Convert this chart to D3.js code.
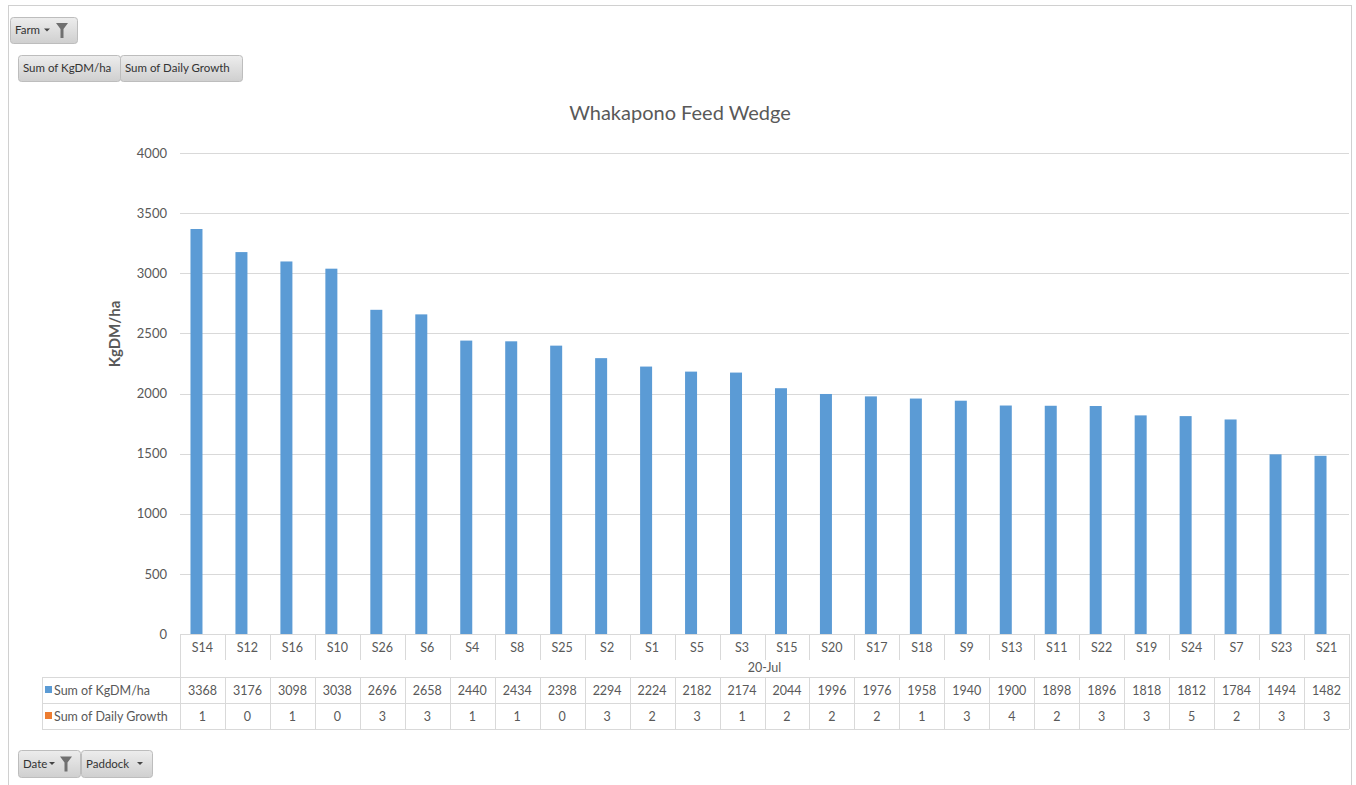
<!DOCTYPE html>
<html>
<head>
<meta charset="utf-8">
<script src="https://cdn.jsdelivr.net/npm/d3@7"></script>
<style>
  html, body { margin: 0; padding: 0; background: #fff; }
  svg { display: block; font-family: Lato, "Open Sans", sans-serif; }
</style>
</head>
<body>
<svg id="chart" width="1356" height="785"></svg>
<script>
const title = "Whakapono Feed Wedge";
const yAxisTitle = "KgDM/ha";
const dateLabel = "20-Jul";
const paddocks = ["S14","S12","S16","S10","S26","S6","S4","S8","S25","S2","S1","S5","S3","S15","S20","S17","S18","S9","S13","S11","S22","S19","S24","S7","S23","S21"];
const kgDM = [3368,3176,3098,3038,2696,2658,2440,2434,2398,2294,2224,2182,2174,2044,1996,1976,1958,1940,1900,1898,1896,1818,1812,1784,1494,1482];
const dailyGrowth = [1,0,1,0,3,3,1,1,0,3,2,3,1,2,2,2,1,3,4,2,3,3,5,2,3,3];
const seriesNames = ["Sum of KgDM/ha","Sum of Daily Growth"];
const seriesColors = ["#5B9BD5","#ED7D31"];
const yTicks = [0,500,1000,1500,2000,2500,3000,3500,4000];
const topButtons = ["Sum of KgDM/ha","Sum of Daily Growth"];
const bottomButtons = ["Date","Paddock"];

const svg = d3.select("#chart");
const textColor = "#595959";
const gridColor = "#D9D9D9";
const tableColor = "#D9D9D9";

// outer frame
svg.append("rect").attr("x",8.5).attr("y",5.5).attr("width",1343).attr("height",790)
  .attr("fill","none").attr("stroke","#D0D0D0");

const plotLeft = 180, plotRight = 1349, plotTop = 153, plotBottom = 634;
const x = d3.scaleBand().domain(paddocks).range([plotLeft, plotRight]);
const y = d3.scaleLinear().domain([0,4000]).range([plotBottom, plotTop]);

// title
svg.append("text").attr("x",680).attr("y",120).attr("text-anchor","middle")
  .attr("font-size",20).attr("fill",textColor).text(title);

// grid
svg.append("g").selectAll("line").data(yTicks.filter(d=>d>0)).join("line")
  .attr("x1",plotLeft).attr("x2",plotRight)
  .attr("y1",d=>Math.round(y(d))+0.5).attr("y2",d=>Math.round(y(d))+0.5)
  .attr("stroke",gridColor);

// y axis labels
const yAxis = d3.axisLeft(y).tickValues(yTicks).tickSize(0).tickPadding(13).tickFormat(d3.format("d"));
const gy = svg.append("g").attr("transform",`translate(${plotLeft},0)`).call(yAxis);
gy.select(".domain").remove();
gy.selectAll("text").attr("font-size",13).attr("fill",textColor).attr("font-family","Lato, sans-serif");

// y axis title
svg.append("text").attr("transform","translate(120,334) rotate(-90)")
  .attr("text-anchor","middle").attr("font-size",15).attr("font-weight","bold")
  .attr("fill",textColor).text(yAxisTitle);

// bars
const barW = 12, barOffset = -6;
svg.append("g").selectAll("rect").data(paddocks).join("rect")
  .attr("x",(d)=>x(d)+x.bandwidth()/2+barOffset-barW/2)
  .attr("width",barW)
  .attr("y",(d,i)=>y(kgDM[i]))
  .attr("height",(d,i)=>y(0)-y(kgDM[i]))
  .attr("fill",seriesColors[0]);

// data table
const tbl = svg.append("g");
const rowCatTop = 634, rowCatBot = 660, rowDateBot = 677, row1Bot = 703, row2Bot = 729;
const tableLeft = 42;
tbl.append("line").attr("x1",plotLeft).attr("x2",plotRight).attr("y1",rowCatTop+0.5).attr("y2",rowCatTop+0.5).attr("stroke",tableColor);
const bounds = paddocks.map(d=>x(d)).concat([plotRight]);
tbl.selectAll(".catsep").data(bounds).join("line")
  .attr("x1",d=>Math.round(d)+0.5).attr("x2",d=>Math.round(d)+0.5)
  .attr("y1",rowCatTop).attr("y2",rowCatBot).attr("stroke",tableColor);
tbl.append("line").attr("x1",plotLeft+0.5).attr("x2",plotLeft+0.5).attr("y1",rowCatBot).attr("y2",rowDateBot).attr("stroke",tableColor);
tbl.append("line").attr("x1",plotRight+0.5).attr("x2",plotRight+0.5).attr("y1",rowCatBot).attr("y2",rowDateBot).attr("stroke",tableColor);
[rowDateBot,row1Bot,row2Bot].forEach(yy=>{
  tbl.append("line").attr("x1",tableLeft).attr("x2",plotRight).attr("y1",yy+0.5).attr("y2",yy+0.5).attr("stroke",tableColor);
});
const vb = [tableLeft].concat(bounds);
tbl.selectAll(".datasep").data(vb).join("line")
  .attr("x1",d=>Math.round(d)+0.5).attr("x2",d=>Math.round(d)+0.5)
  .attr("y1",rowDateBot).attr("y2",row2Bot).attr("stroke",tableColor);

tbl.selectAll(".cat").data(paddocks).join("text")
  .attr("x",d=>x(d)+x.bandwidth()/2).attr("y",652).attr("text-anchor","middle")
  .attr("font-size",12.5).attr("fill",textColor).text(d=>d);
tbl.append("text").attr("x",(plotLeft+plotRight)/2).attr("y",672).attr("text-anchor","middle")
  .attr("font-size",12.5).attr("fill",textColor).text(dateLabel);

const rows = [kgDM, dailyGrowth];
const rowY = [695, 721];
rows.forEach((vals,r)=>{
  tbl.append("rect").attr("x",45).attr("y",rowY[r]-9).attr("width",7).attr("height",7).attr("fill",seriesColors[r]);
  tbl.append("text").attr("x",54).attr("y",rowY[r]).attr("font-size",12.5).attr("fill",textColor).text(seriesNames[r]);
  tbl.selectAll(".v"+r).data(paddocks).join("text")
    .attr("x",d=>x(d)+x.bandwidth()/2).attr("y",rowY[r]).attr("text-anchor","middle")
    .attr("font-size",12.5).attr("fill",textColor).text((d,i)=>vals[i]);
});

// pivot buttons
const defs = svg.append("defs");
const grad = defs.append("linearGradient").attr("id","btn").attr("x1",0).attr("x2",0).attr("y1",0).attr("y2",1);
grad.append("stop").attr("offset","0%").attr("stop-color","#EDEDED");
grad.append("stop").attr("offset","100%").attr("stop-color","#CFCFCF");

function funnel(g, cx, cy){
  g.append("path").attr("d",`M${cx-6},${cy-7} L${cx+6},${cy-7} L${cx+1.5},${cy-1} L${cx+1.5},${cy+8} L${cx-1.5},${cy+8} L${cx-1.5},${cy-1} Z`).attr("fill","#707070");
}
function arrow(g, cx, cy){
  g.append("path").attr("d",`M${cx-3},${cy-1.5} L${cx+3},${cy-1.5} L${cx},${cy+1.5} Z`).attr("fill","#444");
}
function button(xx, yy, w, h, label, opts){
  const g = svg.append("g");
  g.append("rect").attr("x",xx+0.5).attr("y",yy+0.5).attr("width",w).attr("height",h).attr("rx",3)
    .attr("fill","url(#btn)").attr("stroke","#BDBDBD");
  g.append("text").attr("x",xx+5).attr("y",yy+h/2+4).attr("font-size",11.5).attr("fill","#333").text(label);
  if (opts && opts.arrow) arrow(g, opts.arrow, yy+h/2);
  if (opts && opts.funnel) funnel(g, opts.funnel, yy+h/2);
}
button(10,17,67,26,"Farm",{arrow:47,funnel:62});
let bx = 18;
const topW = [102,122];
topButtons.forEach((b,i)=>{ button(bx,55,topW[i],26,b); bx += topW[i]; });
button(18,750,62,27,bottomButtons[0],{arrow:52,funnel:66});
button(81,750,71,27,bottomButtons[1],{arrow:140});
</script>
</body>
</html>
